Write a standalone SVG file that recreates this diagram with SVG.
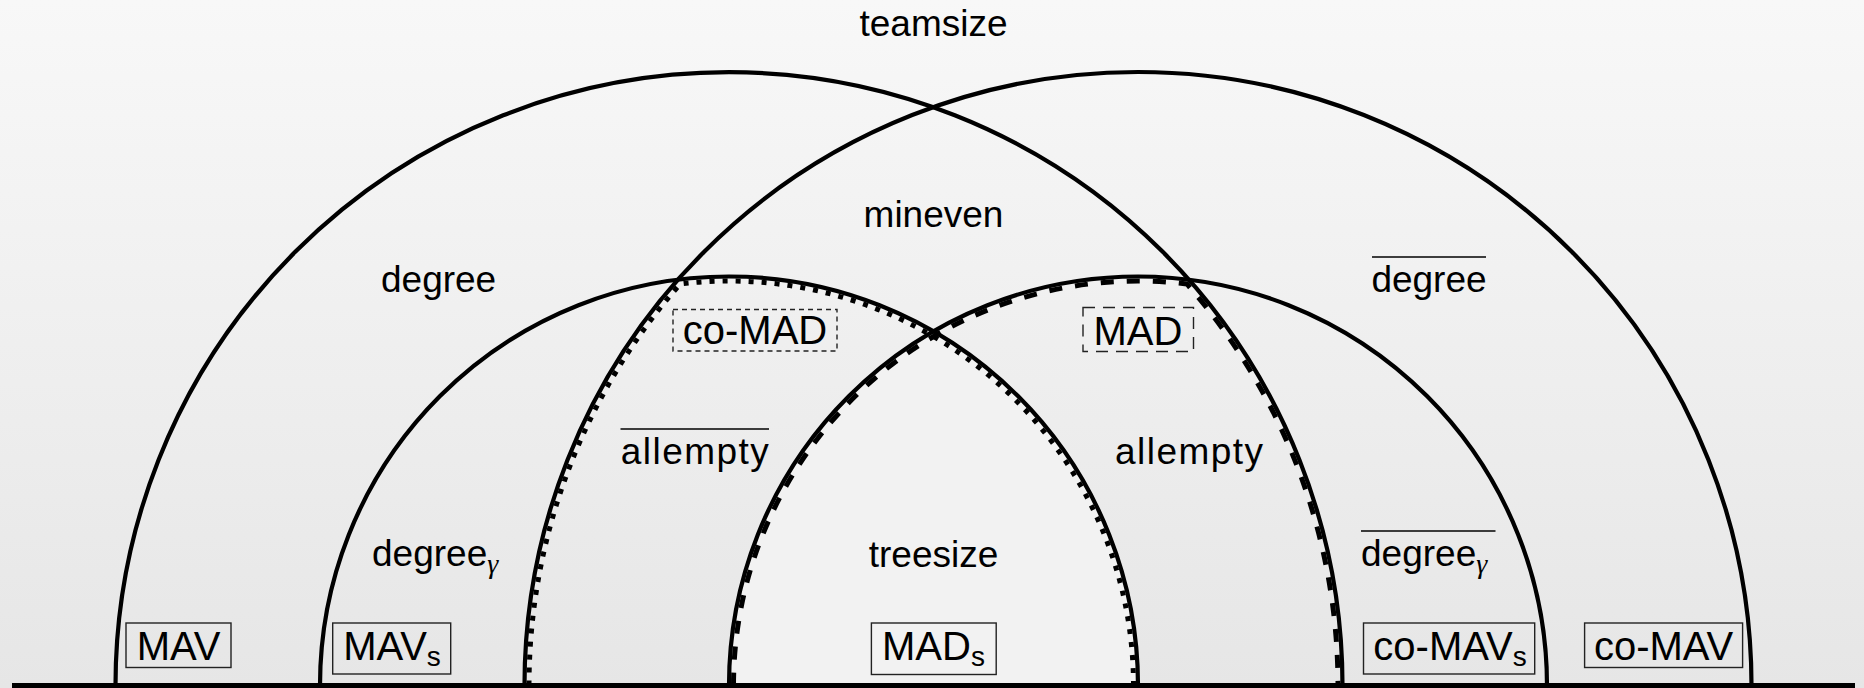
<svg xmlns="http://www.w3.org/2000/svg" width="1864" height="688" viewBox="0 0 1864 688">
<defs>
<linearGradient id="bg" x1="0" y1="0" x2="0" y2="1">
<stop offset="0" stop-color="#f8f8f8"/>
<stop offset="1" stop-color="#e6e6e6"/>
</linearGradient>
</defs>
<style>
.arc{fill:none;stroke:#000;stroke-width:4.2}
.dot{fill:none;stroke:#000;stroke-width:5;stroke-dasharray:5 8}
.dash{fill:none;stroke:#000;stroke-width:5;stroke-dasharray:13 13}
.lbl{font-family:"Liberation Sans",Arial,sans-serif;font-size:37px;fill:#000;text-anchor:middle}
.box{font-family:"Liberation Sans",Arial,sans-serif;font-size:40px;fill:#000;text-anchor:middle}
.sub{font-size:28px}
.gam{font-family:"Liberation Serif","DejaVu Serif",serif;font-style:italic;font-size:28px}
.frame{fill:none;stroke:#222;stroke-width:1.4}
.ol{stroke:#000;stroke-width:1.6}
</style>
<rect x="0" y="0" width="1864" height="688" fill="url(#bg)"/>
<path d="M729 685.5 A409 409 0 0 1 933.5 331.3 A409 409 0 0 1 1138 685.5 Z" fill="#f2f2f2"/>
<g id="connectors">
<path class="arc" d="M115.5 685.5 A613.5 613.5 0 0 1 1342.5 685.5"/>
<path class="arc" d="M524.5 685.5 A613.5 613.5 0 0 1 1751.5 685.5"/>
<path class="arc" d="M320 685.5 A409 409 0 0 1 1138 685.5"/>
<path class="arc" d="M729 685.5 A409 409 0 0 1 1547 685.5"/>
<path class="dot" d="M529 685.5 A609 609 0 0 1 680.13 283.96 A404.5 404.5 0 0 1 1133.5 685.5"/>
<path class="dash" d="M733.5 685.5 A404.5 404.5 0 0 1 1186.87 283.96 A609 609 0 0 1 1338 685.5"/>
<line x1="12" y1="685.5" x2="1855" y2="685.5" stroke="#000" stroke-width="5"/>
</g>
<g id="teamsize"><text class="lbl" x="933.5" y="36">teamsize</text></g>
<g id="mineven"><text class="lbl" x="933.5" y="227">mineven</text></g>
<g id="degree"><text class="lbl" x="438.6" y="292">degree</text></g>
<g id="degree-bar"><line class="ol" x1="1372" y1="257" x2="1486" y2="257"/><text class="lbl" x="1429" y="292">degree</text></g>
<g id="co-MAD"><rect class="frame" x="673" y="309.5" width="164" height="41.5" stroke-dasharray="5 4"/><text class="box" x="755" y="344">co-MAD</text></g>
<g id="MAD"><rect class="frame" x="1083" y="307.5" width="110.5" height="44" stroke-dasharray="12 8"/><text class="box" x="1138" y="345">MAD</text></g>
<g id="allempty-bar"><line class="ol" x1="620.5" y1="429" x2="769" y2="429"/><text class="lbl" x="694.8" y="464" textLength="148" lengthAdjust="spacing">allempty</text></g>
<g id="allempty"><text class="lbl" x="1189" y="464" textLength="148" lengthAdjust="spacing">allempty</text></g>
<g id="treesize"><text class="lbl" x="933.5" y="567">treesize</text></g>
<g id="degree-gamma"><text class="lbl" x="372" y="566" style="text-anchor:start">degree<tspan class="gam" dy="7">γ</tspan></text></g>
<g id="degree-gamma-bar"><line class="ol" x1="1361" y1="531" x2="1495.5" y2="531"/><text class="lbl" x="1361" y="566" style="text-anchor:start">degree<tspan class="gam" dy="7">γ</tspan></text></g>
<g id="MAV"><rect class="frame" x="126" y="623" width="105" height="44.5"/><text class="box" x="178.5" y="660">MAV</text></g>
<g id="MAVs"><rect class="frame" x="332.7" y="623" width="118" height="51"/><text class="box" x="392" y="660">MAV<tspan class="sub" dy="6">s</tspan></text></g>
<g id="MADs"><rect class="frame" x="871.4" y="623" width="124.8" height="51.5"/><text class="box" x="933.5" y="660">MAD<tspan class="sub" dy="6">s</tspan></text></g>
<g id="co-MAVs"><rect class="frame" x="1363.5" y="623" width="171.2" height="51"/><text class="box" x="1450" y="660">co-MAV<tspan class="sub" dy="6">s</tspan></text></g>
<g id="co-MAV"><rect class="frame" x="1584.6" y="623" width="158" height="44.5"/><text class="box" x="1663.6" y="660">co-MAV</text></g>
</svg>
